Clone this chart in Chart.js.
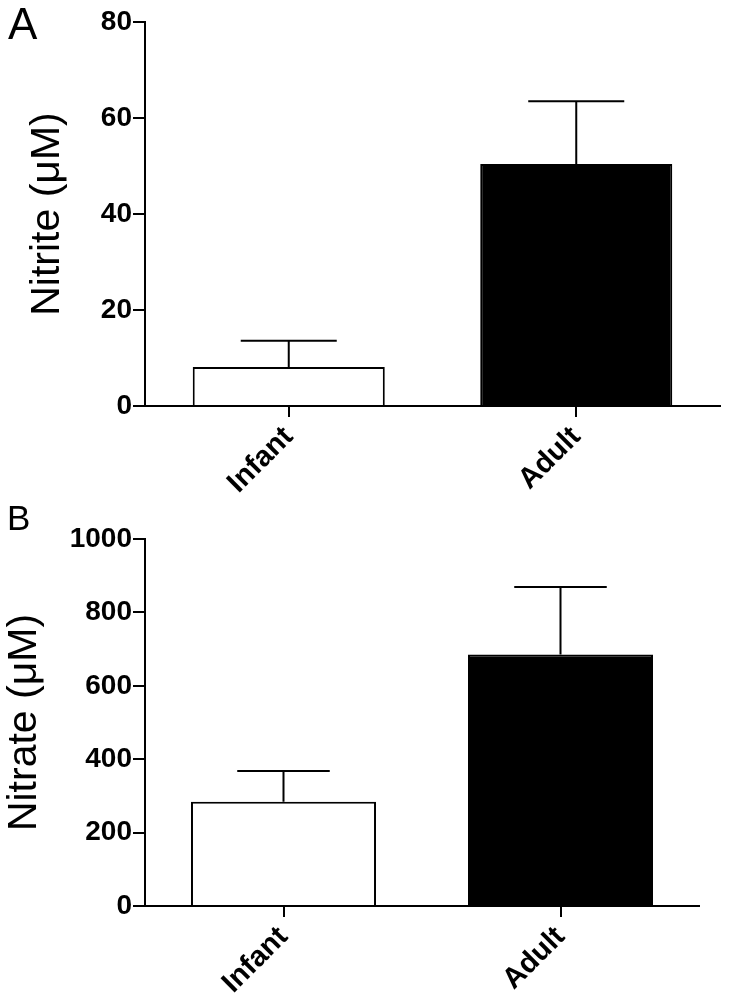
<!DOCTYPE html>
<html><head><meta charset="utf-8">
<script src="https://cdn.jsdelivr.net/npm/chart.js@4.4.1/dist/chart.umd.min.js"></script>
<style>
html,body{margin:0;padding:0;background:#fff;width:729px;height:999px;overflow:hidden;}
#wrap{position:relative;width:729px;height:999px;}
canvas{position:absolute;left:0;}
.lbl{position:absolute;font-family:"Liberation Sans",Arial,sans-serif;color:#000;line-height:1;}
</style></head><body>
<div id="wrap">
<canvas id="cA" width="729" height="495" style="top:0px"></canvas>
<canvas id="cB" width="729" height="504" style="top:495px"></canvas>
<div class="lbl" style="left:8px;top:2px;font-size:44px;">A</div>
<div class="lbl" style="left:7px;top:500px;font-size:35px;">B</div>
</div>
<script>
// ---- data ----
const categories = ["Infant", "Adult"];
const nitriteMean = [8.1, 50.4];
const nitriteSem = [5.5, 13.1];
const nitrateMean = [284, 685];
const nitrateSem = [84, 184];
const nitriteTicks = [0, 20, 40, 60, 80];
const nitrateTicks = [0, 200, 400, 600, 800, 1000];
const barFills = ["#ffffff", "#000000"];

Chart.defaults.color = "#000";
Chart.defaults.font.family = '"Liberation Sans", Arial, sans-serif';

const errorBarPlugin = {
  id: "errorBars",
  afterDatasetsDraw(chart) {
    const ctx = chart.ctx;
    const y = chart.scales.y;
    chart.data.datasets.forEach((ds, di) => {
      const meta = chart.getDatasetMeta(di);
      meta.data.forEach((bar, i) => {
        const m = ds.data[i], e = ds.sem[i];
        const yTop = y.getPixelForValue(m + e);
        const yMean = y.getPixelForValue(m);
        const half = bar.width / 4;
        ctx.save();
        ctx.strokeStyle = "#000";
        ctx.lineWidth = 2;
        ctx.beginPath();
        ctx.moveTo(bar.x, yMean);
        ctx.lineTo(bar.x, yTop);
        ctx.moveTo(bar.x - half, yTop);
        ctx.lineTo(bar.x + half, yTop);
        ctx.stroke();
        ctx.restore();
      });
    });
  }
};

function makeChart(id, means, sems, ticks, maxV, title, cfg) {
  new Chart(document.getElementById(id), {
    type: "bar",
    data: {
      labels: categories,
      datasets: [{
        data: means,
        sem: sems,
        backgroundColor: barFills,
        borderColor: "#000",
        borderWidth: 2,
        categoryPercentage: 1.0,
        barPercentage: 0.668
      }]
    },
    options: {
      responsive: false,
      animation: false,
      devicePixelRatio: 1,
      layout: { padding: { left: 0, right: cfg.padRight, top: cfg.padTop, bottom: 0 } },
      plugins: { legend: { display: false }, tooltip: { enabled: false } },
      scales: {
        x: {
          offset: true,
          grid: { offset: false, drawOnChartArea: false, drawTicks: true, tickLength: 11, color: "#000", lineWidth: 2 },
          border: { display: true, color: "#000", width: 2 },
          ticks: { maxRotation: 45, minRotation: 45, padding: 3, font: { size: 29, weight: "bold" }, color: "#000" },
          afterFit(s) { s.height = cfg.xH; }
        },
        y: {
          min: 0, max: maxV,
          afterBuildTicks(s) { s.ticks = ticks.map(v => ({ value: v })); },
          grid: { drawOnChartArea: false, drawTicks: true, tickLength: 12, color: "#000", lineWidth: 2 },
          border: { display: true, color: "#000", width: 2 },
          ticks: { padding: 1, font: { size: 28, weight: "bold" }, color: "#000", callback: v => String(v) },
          title: { display: true, text: title, font: { size: 41, weight: "normal" }, color: "#000", padding: { top: cfg.titlePad, bottom: 0 } },
          afterFit(s) { s.width = 145; }
        }
      }
    },
    plugins: [errorBarPlugin]
  });
}

makeChart("cA", nitriteMean, nitriteSem, nitriteTicks, 80, "Nitrite (\u03BCM)", { padTop: 22, padRight: 9, xH: 89, titlePad: 23 });
makeChart("cB", nitrateMean, nitrateSem, nitrateTicks, 1000, "Nitrate (\u03BCM)", { padTop: 44, padRight: 30, xH: 93, titlePad: 0 });
</script>
</body></html>
